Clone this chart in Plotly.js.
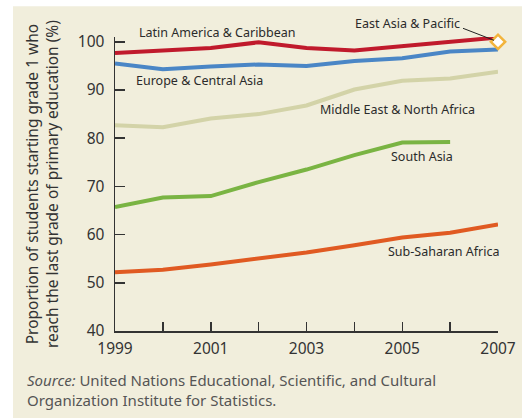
<!DOCTYPE html>
<html>
<head>
<meta charset="utf-8">
<script src="https://cdn.plot.ly/plotly-3.0.1.min.js"></script>
<style>html,body{margin:0;padding:0;background:#fff;}#chart{width:522px;height:418px;}</style>
</head>
<body>
<div id="chart"></div>
<script>
const years = [1999, 2000, 2001, 2002, 2003, 2004, 2005, 2006, 2007];
const latinAmerica = [97.7, 98.1, 98.7, 99.9, 98.7, 98.2, 99.1, 100.2, 100.9];
const europeCentralAsia = [95.5, 94.3, 94.9, 95.3, 95.0, 96.0, 96.6, 98.0, 98.4];
const middleEast = [82.7, 82.3, 84.1, 85.0, 86.8, 90.1, 91.9, 92.4, 93.8];
const southAsiaYears = [1999, 2000, 2001, 2002, 2003, 2004, 2005, 2006];
const southAsia = [65.7, 67.7, 68.0, 70.9, 73.5, 76.5, 79.1, 79.2];
const subSaharan = [52.2, 52.7, 53.8, 55.0, 56.3, 57.8, 59.4, 60.4, 62.1];
const eastAsiaYear = [2007];
const eastAsia = [100];
const xTickVals = [1999, 2001, 2003, 2005, 2007];
const xTickText = ['1999', '2001', '2003', '2005', '2007'];
const yTickVals = [40, 50, 60, 70, 80, 90, 100];

const FONT = 'Noto Sans, sans-serif';
const lw = 4;
const traces = [
  {x: years, y: middleEast, mode: 'lines', line: {color: '#d3d3a8', width: lw}, cliponaxis: false},
  {x: years, y: europeCentralAsia, mode: 'lines', line: {color: '#4a86c6', width: lw}, cliponaxis: false},
  {x: years, y: latinAmerica, mode: 'lines', line: {color: '#c01a2c', width: lw}, cliponaxis: false},
  {x: southAsiaYears, y: southAsia, mode: 'lines', line: {color: '#7ab443', width: lw}, cliponaxis: false},
  {x: years, y: subSaharan, mode: 'lines', line: {color: '#e05a22', width: lw}, cliponaxis: false},
  {x: eastAsiaYear, y: eastAsia, mode: 'markers', marker: {symbol: 'diamond', size: 11, color: '#ffffff', line: {color: '#f2b43c', width: 2.5}}, cliponaxis: false}
];

const labFont = {family: FONT, size: 12.5, color: '#2b2b2b'};
const annotations = [
  {xref: 'paper', yref: 'paper', x: (217 - 115) / 383, y: (330.7 - 32) / 294, text: 'Latin America & Caribbean', showarrow: false, font: labFont, xanchor: 'center', yanchor: 'middle'},
  {xref: 'paper', yref: 'paper', x: (407 - 115) / 383, y: (330.7 - 23) / 294, text: 'East Asia & Pacific', showarrow: false, font: labFont, xanchor: 'center', yanchor: 'middle'},
  {xref: 'paper', yref: 'paper', x: (199 - 115) / 383, y: (330.7 - 80) / 294, text: 'Europe & Central Asia', showarrow: false, font: labFont, xanchor: 'center', yanchor: 'middle'},
  {xref: 'paper', yref: 'paper', x: (397 - 115) / 383, y: (330.7 - 109) / 294, text: 'Middle East & North Africa', showarrow: false, font: labFont, xanchor: 'center', yanchor: 'middle'},
  {xref: 'paper', yref: 'paper', x: (422 - 115) / 383, y: (330.7 - 156) / 294, text: 'South Asia', showarrow: false, font: labFont, xanchor: 'center', yanchor: 'middle'},
  {xref: 'paper', yref: 'paper', x: (444 - 115) / 383, y: (330.7 - 251) / 294, text: 'Sub-Saharan Africa', showarrow: false, font: labFont, xanchor: 'center', yanchor: 'middle'},
  {xref: 'paper', yref: 'paper', x: (42 - 115) / 383, y: 0.5, text: 'Proportion of students starting grade 1 who<br>reach the last grade of primary education (%)', showarrow: false, textangle: -90, font: {family: FONT, size: 15.5, color: '#333'}, xanchor: 'center', yanchor: 'middle'},
  {xref: 'paper', yref: 'paper', x: (25 - 115) / 383, y: (330.7 - 390) / 294, text: '<i>Source:</i> United Nations Educational, Scientific, and Cultural<br>Organization Institute for Statistics.', showarrow: false, align: 'left', font: {family: FONT, size: 15, color: '#555'}, xanchor: 'left', yanchor: 'middle'}
];

const shapes = [
  {type: 'rect', xref: 'paper', yref: 'paper', x0: (13 - 115) / 383, x1: (530 - 115) / 383, y0: (330.7 - 418) / 294, y1: (330.7 - 6) / 294, fillcolor: '#f1eedc', line: {width: 0}, layer: 'below'},
  {type: 'line', xref: 'paper', yref: 'paper', x0: (463 - 115) / 383, y0: (330.7 - 28) / 294, x1: (494 - 115) / 383, y1: (330.7 - 40) / 294, line: {color: '#222', width: 1}}
];

const layout = {
  width: 522, height: 418,
  margin: {l: 115, r: 24, t: 37, b: 87, pad: 0},
  paper_bgcolor: '#ffffff',
  plot_bgcolor: 'rgba(0,0,0,0)',
  showlegend: false,
  font: {family: FONT, color: '#333'},
  xaxis: {
    range: [1999, 2007], dtick: 1, tick0: 1999, tickmode: 'linear',
    ticks: 'inside', ticklen: 9, tickwidth: 1.5, tickcolor: '#333',
    showticklabels: false, showgrid: false, zeroline: false,
    showline: true, linecolor: '#333', linewidth: 1.5, fixedrange: true
  },
  xaxis2: {
    overlaying: 'x', matches: 'x', range: [1999, 2007], tickmode: 'array', tickvals: xTickVals, ticktext: xTickText,
    ticks: '', showgrid: false, zeroline: false, showline: false, anchor: 'y',
    tickfont: {family: FONT, size: 15.5, color: '#333'}, side: 'bottom', ticklabelstandoff: 6
  },
  yaxis: {
    range: [40, 101], tickmode: 'array', tickvals: yTickVals,
    ticks: 'inside', ticklen: 10, tickwidth: 1.5, tickcolor: '#333',
    showgrid: false, zeroline: false, showline: true, linecolor: '#333', linewidth: 1.5,
    tickfont: {family: FONT, size: 15.5, color: '#333'}, ticklabelstandoff: 6
  },
  annotations: annotations,
  shapes: shapes
};
traces.push({x: [1999], y: [40], xaxis: 'x2', mode: 'markers', marker: {opacity: 0}, hoverinfo: 'skip'});
Plotly.newPlot('chart', traces, layout, {staticPlot: true, displayModeBar: false});
</script>
</body>
</html>
